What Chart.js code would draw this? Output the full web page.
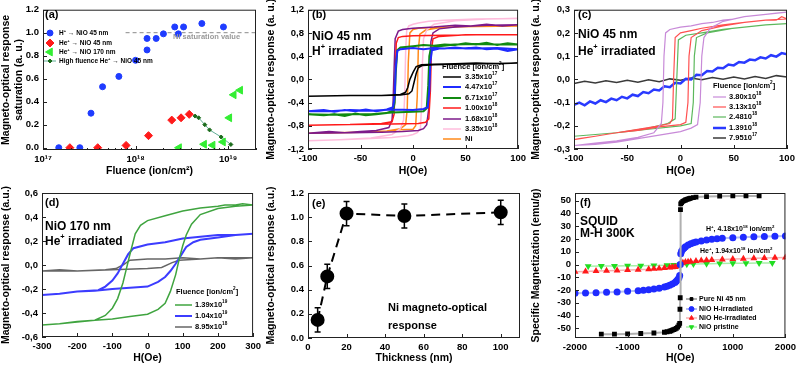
<!DOCTYPE html>
<html>
<head>
<meta charset="utf-8">
<script src="https://cdn.jsdelivr.net/npm/chart.js@4.4.0/dist/chart.umd.min.js"></script>
<style>
body { margin: 0; background: #fff; width: 800px; height: 367px; position: relative; overflow: hidden; }
canvas { position: absolute; }
</style>
</head>
<body>
<canvas id="pa"></canvas>
<canvas id="pb"></canvas>
<canvas id="pc"></canvas>
<canvas id="pd"></canvas>
<canvas id="pe"></canvas>
<canvas id="pf"></canvas>
<script>
// ---- (a) saturation vs fluence ----
var aHFlu = [1.48e17, 2.5e17, 3.3e17, 4.4e17, 6.6e17, 1.0e18, 1.33e18, 1.33e18, 1.67e18, 2.0e18, 2.65e18, 2.9e18, 3.3e18, 5.2e18, 8.9e18];
var aHSat = [0, 0, 0.3, 0.53, 0.62, 0.76, 0.85, 0.95, 0.95, 0.99, 1.05, 0.99, 1.05, 1.08, 1.05];
var aHe45Flu = [1.95e17, 3.9e17, 7.9e17, 1.38e18, 2.46e18, 3.1e18, 3.8e18];
var aHe45Sat = [0, 0, 0.02, 0.105, 0.24, 0.26, 0.29];
var aHe170Flu = [2.95e18, 5.5e18, 6.8e18, 8.8e18, 1.03e19, 1.15e19, 1.35e19];
var aHe170Sat = [0, 0.03, 0.022, 0.05, 0.26, 0.46, 0.50];
var aHighFlu = [4.4e18, 4.8e18, 5.6e18, 6.3e18, 8.4e18, 1.07e19];
var aHighSat = [0.275, 0.26, 0.2, 0.155, 0.093, 0.028];
var aNiFlu = [7.8e17, 2e19];
var aNiSat = [1.0, 1.0];
var aXTicks = [1e17, 1e18, 1e19];
var aXLabels = ['10¹⁷', '10¹⁸', '10¹⁹'];
var aYTicks = [0, 0.2, 0.4, 0.6, 0.8, 1.0, 1.2];
var aLegend = ['H^{+} → NiO 45 nm', 'He^{+} → NiO 45 nm', 'He^{+} → NiO 170 nm', 'High fluence He^{+} → NiO 45 nm'];

// ---- (b) NiO 45 nm, H+ ----
var bLabels = ['3.35x10^{17}', '4.47x10^{17}', '6.71x10^{17}', '1.00x10^{18}', '1.68x10^{18}', '3.35x10^{18}', 'Ni'];
var b335e17 = [[100,.28],[80,.27],[60,.28],[40,.27],[20,.26],[8,.25],[3,.22],[0,.12],[-3,0],[-5,-.14],[-7,-.22],[-12,-.26],[-30,-.28],[-60,-.28],[-100,-.29],[-60,-.28],[-30,-.28],[-12,-.27],[-4,-.25],[-1,-.2],[1,-.05],[3,.1],[5,.2],[9,.24],[20,.25],[40,.26],[70,.27],[100,.28]];
var b447e17 = [[100,.52],[90,.49],[80,.53],[70,.52],[60,.55],[50,.53],[40,.55],[30,.53],[20,.54],[10,.52],[0,.54],[-12,.52],[-15,.49],[-16.5,.2],[-17.5,-.3],[-19,-.48],[-25,-.52],[-35,-.55],[-45,-.52],[-55,-.55],[-65,-.53],[-75,-.56],[-85,-.53],[-100,-.55],[-80,-.55],[-60,-.53],[-40,-.54],[-20,-.52],[0,-.53],[10,-.51],[14,-.48],[15.5,-.2],[16.5,.3],[18,.5],[25,.53],[40,.54],[60,.53],[80,.54],[100,.52]];
var b671e17 = [[100,.6],[90,.62],[80,.59],[70,.63],[60,.6],[50,.62],[40,.59],[30,.6],[20,.58],[10,.59],[0,.57],[-12,.55],[-15,.5],[-16.5,.1],[-17.5,-.4],[-19,-.54],[-25,-.58],[-35,-.6],[-45,-.62],[-55,-.59],[-65,-.63],[-75,-.6],[-85,-.62],[-100,-.6],[-80,-.61],[-60,-.6],[-40,-.6],[-20,-.57],[0,-.56],[10,-.55],[13,-.5],[14.5,-.1],[15.5,.4],[17,.53],[25,.57],[40,.6],[60,.61],[80,.6],[100,.6]];
var b100e18 = [[100,.77],[60,.77],[30,.76],[0,.75],[-10,.74],[-14,.72],[-16,.62],[-17,0],[-18,-.6],[-20,-.73],[-30,-.76],[-60,-.78],[-100,-.79],[-60,-.78],[-20,-.77],[5,-.76],[12,-.74],[15,-.68],[16.5,-.2],[17.5,.5],[19,.7],[25,.74],[50,.77],[100,.77]];
var b168e18 = [[100,.94],[85,.92],[70,.95],[55,.92],[40,.93],[20,.9],[0,.88],[-10,.86],[-14,.83],[-17,.7],[-18,.2],[-19,-.4],[-20,-.7],[-23,-.83],[-35,-.88],[-50,-.9],[-65,-.92],[-80,-.9],[-100,-.93],[-60,-.92],[-30,-.91],[-10,-.9],[5,-.88],[10,-.85],[13,-.78],[15,-.5],[16,.2],[17,.65],[19,.8],[25,.87],[40,.9],[70,.93],[100,.94]];
var b335e18 = [[100,1.05],[60,1.04],[30,1.02],[15,1.0],[5,.97],[0,.95],[-4,.92],[-6,.85],[-7,.5],[-8,-.3],[-9,-.7],[-12,-.85],[-20,-.95],[-40,-1.01],[-70,-1.04],[-100,-1.06],[-70,-1.04],[-40,-1.02],[-20,-1.0],[-5,-.97],[0,-.95],[4,-.92],[7,-.85],[8,-.5],[9,.3],[10,.7],[13,.85],[20,.95],[40,1.01],[70,1.04],[100,1.05]];
var bNi = [[100,.92],[60,.91],[30,.9],[15,.89],[5,.88],[0,.86],[-3,.8],[-4.5,.3],[-5.5,-.5],[-7,-.78],[-12,-.85],[-25,-.89],[-50,-.91],[-100,-.93],[-50,-.91],[-25,-.89],[-12,-.87],[0,-.86],[2.5,-.8],[4,-.3],[5,.5],[6.5,.78],[12,.85],[25,.89],[50,.91],[100,.92]];
var bXTicks = [-100, -50, 0, 50, 100];
var bYTicks = [-1.2, -0.8, -0.4, 0, 0.4, 0.8, 1.2];

// ---- (c) NiO 45 nm, He+ ----
var cLabels = ['3.80x10^{18}', '3.13x10^{18}', '2.4810^{18}', '1.3910^{18}', '7.9510^{17}'];
var c380e18 = [[100,.29],[90,.285],[80,.28],[70,.275],[60,.27],[50,.26],[40,.255],[30,.245],[20,.24],[10,.23],[0,.225],[-10,.215],[-14,.2],[-15.5,.1],[-16.5,-.1],[-18,-.19],[-25,-.23],[-40,-.25],[-60,-.265],[-80,-.275],[-100,-.285],[-80,-.28],[-60,-.27],[-40,-.255],[-20,-.24],[0,-.225],[10,-.21],[16,-.195],[18.5,-.1],[20,.1],[22,.18],[28,.22],[40,.25],[60,.27],[80,.28],[100,.29]];
var c313e18 = [[100,.26],[95,.27],[90,.255],[80,.255],[60,.245],[40,.235],[20,.22],[10,.21],[0,.2],[-5,.18],[-6.5,0],[-7.5,-.17],[-10,-.19],[-20,-.2],[-40,-.215],[-60,-.23],[-80,-.245],[-95,-.255],[-100,-.26],[-80,-.245],[-60,-.23],[-40,-.22],[-20,-.205],[0,-.195],[5,-.185],[7,-.1],[8,.1],[10,.18],[20,.21],[40,.23],[60,.245],[80,.255],[100,.26]];
var c248e18 = [[100,.24],[80,.235],[60,.225],[40,.215],[20,.2],[5,.19],[-2,.17],[-3.5,0],[-5,-.17],[-12,-.19],[-30,-.21],[-60,-.23],[-100,-.245],[-60,-.23],[-30,-.215],[0,-.2],[10,-.19],[12,-.1],[13,.1],[15,.18],[25,.2],[50,.22],[80,.235],[100,.24]];
var c139e18 = [[-100,-.11],[-95,-.1],[-90,-.112],[-85,-.095],[-80,-.104],[-75,-.09],[-70,-.098],[-65,-.083],[-60,-.09],[-55,-.075],[-50,-.082],[-45,-.066],[-40,-.072],[-35,-.055],[-30,-.06],[-25,-.044],[-20,-.048],[-15,-.03],[-10,-.034],[-5,-.015],[0,-.018],[5,.002],[10,0],[15,.02],[20,.018],[25,.036],[30,.034],[35,.05],[40,.048],[45,.064],[50,.06],[55,.075],[60,.072],[65,.085],[70,.082],[75,.095],[80,.09],[85,.104],[90,.098],[95,.113],[100,.108]];
var c795e17 = [[-100,-.018],[-90,-.008],[-80,-.016],[-70,-.006],[-60,-.014],[-50,-.004],[-40,-.012],[-30,-.002],[-20,-.01],[-10,.002],[0,-.004],[10,.006],[20,-.002],[30,.008],[40,0],[50,.01],[60,.002],[70,.012],[80,.004],[90,.016],[100,.01]];
var cXTicks = [-100, -50, 0, 50, 100];
var cYTicks = [-0.3, -0.2, -0.1, 0, 0.1, 0.2, 0.3];

// ---- (d) NiO 170 nm, He+ ----
var dLabels = ['1.39x10^{19}', '1.04x10^{19}', '8.95x10^{18}'];
var d139e19 = [[300,.5],[270,.51],[250,.5],[220,.5],[200,.49],[150,.475],[100,.45],[50,.41],[0,.37],[-20,.33],[-35,.26],[-50,.09],[-60,-.03],[-70,-.15],[-85,-.28],[-100,-.36],[-120,-.42],[-150,-.46],[-200,-.475],[-250,-.49],[-300,-.5],[-250,-.49],[-200,-.47],[-150,-.46],[-100,-.45],[-50,-.43],[0,-.41],[30,-.37],[50,-.32],[65,-.22],[80,-.08],[90,.05],[100,.16],[110,.25],[125,.34],[150,.42],[200,.47],[250,.49],[300,.5]];
var d104e19 = [[300,.26],[250,.25],[200,.25],[150,.235],[100,.22],[50,.19],[0,.17],[-40,.14],[-55,.09],[-70,.01],[-85,-.07],[-100,-.13],[-120,-.18],[-140,-.21],[-200,-.22],[-250,-.24],[-300,-.25],[-250,-.24],[-200,-.22],[-150,-.215],[-100,-.2],[-50,-.19],[0,-.18],[30,-.14],[50,-.1],[65,-.05],[80,.01],[95,.08],[110,.15],[130,.19],[150,.21],[200,.23],[250,.25],[300,.26]];
var d895e18 = [[300,.06],[250,.05],[200,.06],[150,.05],[100,.06],[50,.05],[0,.05],[-50,.04],[-70,0],[-90,-.03],[-120,-.04],[-200,-.05],[-250,-.04],[-300,-.05],[-250,-.05],[-200,-.05],[-100,-.04],[0,-.03],[40,-.02],[70,.02],[90,.04],[150,.05],[200,.06],[300,.06]];
var dXTicks = [-300, -200, -100, 0, 100, 200, 300];
var dYTicks = [-0.6, -0.4, -0.2, 0, 0.2, 0.4, 0.6];

// ---- (e) thickness ----
var eThick = [5, 10, 20, 50, 100];
var eResp = [0.15, 0.51, 1.03, 1.01, 1.04];
var eErr = [0.1, 0.1, 0.1, 0.1, 0.1];
var eXTicks = [0, 20, 40, 60, 80, 100];
var eYTicks = [0, 0.2, 0.4, 0.6, 0.8, 1.0, 1.2];

// ---- (f) SQUID ----
var fLabels = ['Pure Ni 45 nm', 'NiO H-irradiated', 'NiO He-irradiated', 'NiO pristine'];
var fNiH = [-1500,-1250,-1000,-750,-500,-300,-250,-200,-175,-150,-125,-100,-75,-50,-25,-10,-5,0,5,10,25,50,75,100,125,150,175,200,250,300,500,750,1000,1250,1500];
var fNiM = [-54.5,-54.5,-54.3,-54,-53.6,-53,-52.6,-52.2,-51.8,-51.4,-51,-50.5,-50,-49,-47.5,-46,-35,-26,43,47.5,48.5,49.5,50,50.5,51,51.3,51.6,52,52.4,52.8,53.2,53.5,53.7,53.7,53.7];
var fHH = [-2000,-1800,-1600,-1400,-1200,-1000,-800,-700,-600,-500,-400,-300,-250,-200,-150,-100,-75,-50,-25,-10,0,10,25,50,75,100,150,200,250,300,400,500,600,700,800,1000,1200,1400,1600,1800,2000];
var fHM = [-22.5,-22.2,-22,-21.7,-21.4,-21,-20.5,-20.1,-19.7,-19.2,-18.5,-17.6,-17,-16.3,-15.3,-14,-13,-12,-10.5,-8.5,0,8.5,10.5,12,13,14,15.3,16.3,17,17.6,18.5,19.2,19.7,20.1,20.5,21,21.4,21.7,22,22.2,22.4];
var fHeH = [-2000,-1800,-1600,-1400,-1200,-1000,-800,-600,-500,-400,-300,-200,-150,-100,-50,-25,0,25,50,100,150,200,300,400,500,600,800,1000,1200,1400,1600,1800,2000];
var fHeM = [-5.6,-5.4,-5.1,-4.9,-4.6,-4.3,-4,-3.6,-3.3,-3.1,-2.7,-2.3,-2.1,-1.9,-1.5,-1,0,1,1.5,1.9,2.1,2.3,2.7,3.1,3.3,3.6,4,4.3,4.6,4.9,5.1,5.4,5.6];
var fPrH = [-1750,-1500,-1250,-1000,-750,-500,-250,-125,0,125,250,500,750,1000,1250,1500,1750];
var fPrM = [-1.3,-1.2,-1.1,-1,-0.9,-0.7,-0.5,-0.3,0,0.3,0.5,0.7,0.9,1,1.1,1.2,1.3];
var fXTicks = [-2000, -1000, 0, 1000, 2000];
var fYTicks = [-50, -40, -30, -20, -10, 0, 10, 20, 30, 40, 50];

// ---------------------------------------------------------------
var FF = "'Liberation Sans', Arial, sans-serif";
Chart.defaults.font.family = FF;
Chart.defaults.font.weight = 'bold';
Chart.defaults.font.size = 9.5;
Chart.defaults.color = '#000';
Chart.defaults.animation = false;

function pairs(a) { return a.map(function (p) { return { x: p[0], y: p[1] }; }); }
function xy(xs, ys) { return xs.map(function (x, i) { return { x: x, y: ys[i] }; }); }
function comma(v) { return v.toFixed(1).replace('.', ','); }
function dot(v) { return v.toFixed(1); }
function plain(v) { return String(v); }

// text with ^{..} superscripts
function rich(ctx, str, x, y, size, color) {
  var segs = str.split(/(\^\{[^}]*\})/).filter(function (s) { return s; }).map(function (s) {
    return s.indexOf('^{') === 0 ? { t: s.slice(2, -1), sup: true } : { t: s, sup: false };
  });
  ctx.fillStyle = color; ctx.textBaseline = 'middle'; ctx.textAlign = 'left';
  var cx = x;
  segs.forEach(function (s) {
    var fs = s.sup ? size * 0.62 : size;
    ctx.font = 'bold ' + fs + 'px ' + FF;
    ctx.fillText(s.t, cx, s.sup ? y - size * 0.38 : y);
    cx += ctx.measureText(s.t).width;
  });
}

var DECO = {};
var decoPlugin = {
  id: 'deco',
  beforeDatasetsDraw: function (chart) {
    var d = DECO[chart.canvas.id];
    if (!d.err) return;
    var ctx = chart.ctx, xs = chart.scales.x, ys = chart.scales.y;
    ctx.save(); ctx.strokeStyle = '#000'; ctx.lineWidth = 1.5;
    d.err.x.forEach(function (v, i) {
      var px = xs.getPixelForValue(v);
      var y1 = ys.getPixelForValue(d.err.y[i] - d.err.e[i]);
      var y2 = ys.getPixelForValue(d.err.y[i] + d.err.e[i]);
      ctx.beginPath();
      ctx.moveTo(px, y1); ctx.lineTo(px, y2);
      ctx.moveTo(px - 3, y1); ctx.lineTo(px + 3, y1);
      ctx.moveTo(px - 3, y2); ctx.lineTo(px + 3, y2);
      ctx.stroke();
    });
    ctx.restore();
  },
  afterDatasetsDraw: function (chart) {
    var d = DECO[chart.canvas.id];
    var ctx = chart.ctx, a = chart.chartArea, xs = chart.scales.x, ys = chart.scales.y;
    var ox = d.ox, oy = d.oy;
    ctx.save();
    ctx.strokeStyle = '#222'; ctx.lineWidth = 1;
    ctx.strokeRect(a.left + 0.5, a.top + 0.5, a.right - a.left - 1, a.bottom - a.top - 1);
    ctx.beginPath();
    xs.ticks.forEach(function (t) {
      var p = Math.round(xs.getPixelForValue(t.value)) + 0.5;
      ctx.moveTo(p, a.bottom); ctx.lineTo(p, a.bottom - 4);
    });
    if (xs.type === 'logarithmic') {
      [17, 18, 19].forEach(function (e) {
        for (var m = 2; m < 10; m++) {
          var v = m * Math.pow(10, e);
          if (v > xs.max) break;
          var p = Math.round(xs.getPixelForValue(v)) + 0.5;
          ctx.moveTo(p, a.bottom); ctx.lineTo(p, a.bottom - 2);
        }
      });
    }
    ys.ticks.forEach(function (t) {
      var p = Math.round(ys.getPixelForValue(t.value)) + 0.5;
      ctx.moveTo(a.left, p); ctx.lineTo(a.left + 4, p);
    });
    ctx.stroke();

    (d.notes || []).forEach(function (n) {
      rich(ctx, n[0], n[1] - ox, n[2] - oy, n[3], n[4] || '#000');
    });

    var L = d.leg;
    if (L) {
      if (L.head) rich(ctx, L.head, L.hx - ox, L.hy - oy, L.size, '#000');
      L.idx.forEach(function (k, i) {
        var ds = chart.data.datasets[k];
        var y = L.ys[i] - oy;
        if (ds.showLine) {
          ctx.strokeStyle = ds.borderColor; ctx.lineWidth = ds.borderWidth;
          ctx.setLineDash([]);
          ctx.beginPath(); ctx.moveTo(L.x1 - ox, y); ctx.lineTo(L.x2 - ox, y); ctx.stroke();
        }
        if (ds.pointRadius > 0) {
          ctx.fillStyle = ds.pointBackgroundColor; ctx.strokeStyle = ds.pointBorderColor; ctx.lineWidth = 1;
          Chart.helpers.drawPoint(ctx, { pointStyle: ds.pointStyle, rotation: ds.pointRotation || 0, radius: ds.pointRadius, borderWidth: 1 }, (L.x1 + L.x2) / 2 - ox, y);
        }
        rich(ctx, L.labels[i], L.tx - ox, y, L.size, '#000');
      });
    }
    ctx.restore();
  }
};

function axis(type, min, max, ticks, fmt, title) {
  return {
    type: type, min: min, max: max,
    grid: { display: false, drawTicks: false }, border: { display: false },
    afterBuildTicks: function (s) { s.ticks = ticks.map(function (v) { return { value: v }; }); },
    ticks: { callback: fmt, padding: 4, autoSkip: false, maxRotation: 0, font: { size: 9.5 } },
    title: { display: true, text: title, font: { size: 10.5 }, padding: { top: 0, bottom: 3 } }
  };
}

function panel(id, box, area, xs, ys, datasets, deco) {
  var cv = document.getElementById(id);
  cv.width = box[2]; cv.height = box[3];
  cv.style.left = box[0] + 'px'; cv.style.top = box[1] + 'px';
  deco.ox = box[0]; deco.oy = box[1];
  DECO[id] = deco;
  xs.afterFit = function (s) { s.height = box[1] + box[3] - area[3]; };
  ys.afterFit = function (s) { s.width = area[0] - box[0]; };
  return new Chart(cv, {
    type: 'scatter',
    data: { datasets: datasets },
    options: {
      responsive: false, animation: false,
      layout: { padding: { left: 0, top: area[1] - box[1], right: box[0] + box[2] - area[2], bottom: 0 } },
      plugins: { legend: { display: false }, tooltip: { enabled: false } },
      scales: { x: xs, y: ys }
    },
    plugins: [decoPlugin]
  });
}

function loop(data, color, w) {
  return { data: pairs(data), showLine: true, borderColor: color, borderWidth: w, pointRadius: 0, tension: 0 };
}
function marks(data, color, style, r, rot) {
  return { data: data, showLine: false, pointStyle: style, pointRadius: r, pointRotation: rot || 0,
    pointBackgroundColor: color, pointBorderColor: color, backgroundColor: color, borderColor: color };
}

// (a)
panel('pa', [0, 0, 265, 180], [43, 5, 256, 150],
  axis('logarithmic', 1e17, 2e19, aXTicks, function (v, i) { return aXLabels[i]; }, 'Fluence (ion/cm²)'),
  axis('linear', -0.02, 1.2, aYTicks, dot, ['Magneto-optical response', 'saturation (a. u.)']),
  [
    marks(xy(aHFlu, aHSat), '#1f3cff', 'circle', 3),
    marks(xy(aHe45Flu, aHe45Sat), '#ff1a1a', 'rectRot', 4),
    marks(xy(aHe170Flu, aHe170Sat), '#33ee33', 'triangle', 4.5, -90),
    Object.assign(marks(xy(aHighFlu, aHighSat), '#1a6b1a', 'rectRot', 2), { showLine: true, borderColor: '#5fae96', borderWidth: 1 }),
    { data: xy(aNiFlu, aNiSat), showLine: true, borderColor: '#8a8a8a', borderWidth: 1, borderDash: [4, 3], pointRadius: 0 }
  ],
  {
    notes: [['(a)', 45, 15, 11], ['Ni saturation value', 173, 37, 7.5, '#999']],
    leg: { idx: [0, 1, 2, 3], labels: aLegend, ys: [33, 43, 52, 61], x1: 44, x2: 56, tx: 59, size: 6.5 }
  });

// (b)
panel('pb', [265, 0, 265, 180], [308, 5, 521, 149],
  axis('linear', -100, 100, bXTicks, plain, 'H(Oe)'),
  axis('linear', -1.2, 1.2, bYTicks, comma, 'Magneto-optical response (a. u.)'),
  [
    loop(b335e17, '#000000', 1.5),
    loop(b447e17, '#1f2bff', 2),
    loop(b671e17, '#118a11', 2),
    loop(b100e18, '#ff1a1a', 1.5),
    loop(b168e18, '#7d1a8a', 1.5),
    loop(b335e18, '#ffbcdc', 1.5),
    loop(bNi, '#ff8a1a', 1.5)
  ],
  {
    notes: [['(b)', 312, 15, 11], ['NiO 45 nm', 312, 37, 12], ['H^{+} irradiated', 312, 52, 12]],
    leg: { head: 'Fluence [ion/cm^{2}]', hx: 442, hy: 67, idx: [0, 1, 2, 3, 4, 5, 6], labels: bLabels,
      ys: [77, 87, 98, 108, 119, 129, 139], x1: 443, x2: 461, tx: 465, size: 7.5 }
  });

// (c)
panel('pc', [530, 0, 270, 180], [574, 5, 787, 149],
  axis('linear', -100, 100, cXTicks, plain, 'H(Oe)'),
  axis('linear', -0.3, 0.3, cYTicks, comma, 'Magneto-optical response (a. u.)'),
  [
    loop(c380e18, '#c88ad8', 1.2),
    loop(c313e18, '#ff5050', 1.2),
    loop(c248e18, '#5cb85c', 1.2),
    loop(c139e18, '#2a3aff', 2.5),
    loop(c795e17, '#3a3a3a', 1.5)
  ],
  {
    notes: [['(c)', 578, 15, 11], ['NiO 45 nm', 578, 35, 12], ['He^{+} irradiated', 578, 52, 12]],
    leg: { head: 'Fluence [ion/cm^{2}]', hx: 713, hy: 86, idx: [0, 1, 2, 3, 4], labels: cLabels,
      ys: [97, 107, 117, 128, 138], x1: 713, x2: 726, tx: 729, size: 7.5 }
  });

// (d)
panel('pd', [0, 180, 265, 187], [42, 193, 255, 337],
  axis('linear', -300, 300, dXTicks, plain, 'H(Oe)'),
  axis('linear', -0.6, 0.6, dYTicks, comma, 'Magneto-optical response (a.u.)'),
  [
    loop(d139e19, '#3fa43f', 1.5),
    loop(d104e19, '#3c3cff', 2),
    loop(d895e18, '#666666', 1.5)
  ],
  {
    notes: [['(d)', 45, 203, 11], ['NiO 170 nm', 45, 227, 12], ['He^{+} irradiated', 45, 242, 12]],
    leg: { head: 'Fluence [ion/cm^{2}]', hx: 176, hy: 292, idx: [0, 1, 2], labels: dLabels,
      ys: [305, 316, 327], x1: 175, x2: 192, tx: 195, size: 7.5 }
  });

// (e)
panel('pe', [265, 180, 265, 187], [308, 193, 520, 338],
  axis('linear', 0, 110, eXTicks, plain, 'Thickness (nm)'),
  axis('linear', 0, 1.2, eYTicks, dot, 'Magneto-optical response (a.u.)'),
  [
    { data: xy(eThick, eResp), showLine: true, borderColor: '#000', borderWidth: 2, borderDash: [9, 6],
      pointStyle: 'circle', pointRadius: 6, pointBackgroundColor: '#000', pointBorderColor: '#000' }
  ],
  {
    err: { x: eThick, y: eResp, e: eErr },
    notes: [['(e)', 312, 204, 11], ['Ni magneto-optical', 388, 308, 11], ['response', 388, 326, 11]]
  });

// (f)
panel('pf', [530, 180, 270, 187], [575, 193, 787, 338],
  axis('linear', -2000, 2000, fXTicks, plain, 'H(Oe)'),
  axis('linear', -57.5, 56, fYTicks, plain, 'Specific Magnetization (emu/g)'),
  [
    Object.assign(marks(xy(fNiH, fNiM), '#000', 'rect', 2), { showLine: true, borderColor: '#b0b0b0', borderWidth: 2 }),
    Object.assign(marks(xy(fHH, fHM), '#1f2bff', 'circle', 2.5), { showLine: true, borderColor: '#b4bdf5', borderWidth: 2 }),
    Object.assign(marks(xy(fHeH, fHeM), '#ff1a1a', 'triangle', 2.5), { showLine: true, borderColor: '#f5b0b0', borderWidth: 1.5 }),
    Object.assign(marks(xy(fPrH, fPrM), '#22dd22', 'triangle', 2.5, 180), { showLine: true, borderColor: '#a8f0a8', borderWidth: 1.5 })
  ],
  {
    notes: [['(f)', 580, 203, 11], ['SQUID', 580, 222, 12], ['M-H 300K', 580, 234, 12],
      ['H^{+}, 4.18x10^{18} ion/cm^{2}', 706, 229, 7], ['He^{+}, 1.94x10^{18} ion/cm^{2}', 700, 251, 7]],
    leg: { idx: [0, 1, 2, 3], labels: fLabels, ys: [299, 309, 318, 327], x1: 686, x2: 697, tx: 699, size: 7 }
  });
</script>
</body>
</html>
